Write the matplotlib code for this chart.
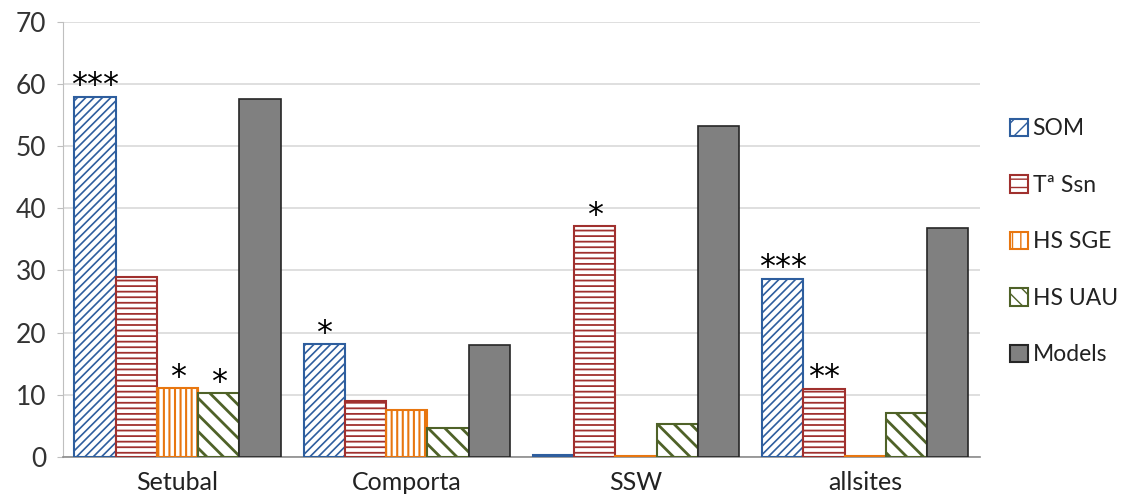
import numpy as np
import matplotlib
matplotlib.use("Agg")
import matplotlib.pyplot as plt
from matplotlib.patches import Patch

sites = ["Setubal", "Comporta", "SSW", "allsites"]
series_names = ["SOM", "Tª Ssn", "HS SGE", "HS UAU", "Models"]
som = [57.9, 18.1, 0.2, 28.7]
ta_ssn = [28.9, 8.9, 37.1, 10.9]
hs_sge = [11.0, 7.6, 0.1, 0.1]
hs_uau = [10.2, 4.6, 5.3, 7.0]
models = [57.7, 18.0, 53.2, 36.8]
# significance stars per series and site
stars_som = ["***", "*", "", "***"]
stars_ta = ["", "", "*", "**"]
stars_sge = ["*", "", "", ""]
stars_uau = ["*", "", "", ""]
stars_models = ["", "", "", ""]

series = [som, ta_ssn, hs_sge, hs_uau, models]
stars = [stars_som, stars_ta, stars_sge, stars_uau, stars_models]
edges = ["#2E5E9E", "#A0302E", "#E8760F", "#4F6228", "#262626"]
faces = ["white", "white", "white", "white", "#808080"]
hatches = ["////", "---", "|||", "\\\\", None]
hatch_lw = [1.2, 1.3, 1.5, 2.0, 1.0]
bar_lw = [1.5, 1.5, 1.5, 1.5, 1.2]

plt.rcParams["font.family"] = ["Lato", "DejaVu Sans"]

fig = plt.figure(figsize=(11.29, 5.04), dpi=100)
ax = fig.add_axes([0.0558, 0.0939, 0.812, 0.862])

n = len(series)
x = np.arange(len(sites))
width = 0.9 / n
for i, (vals, st) in enumerate(zip(series, stars)):
    pos = x - 0.45 + width * (i + 0.5)
    with plt.rc_context({"hatch.linewidth": hatch_lw[i]}):
        bars = ax.bar(pos, vals, width, facecolor=faces[i], edgecolor=edges[i],
                      hatch=hatches[i], linewidth=bar_lw[i], zorder=3)
    for b, s, v in zip(bars, st, vals):
        if s:
            ax.annotate(s, (b.get_x() + b.get_width() / 2, v),
                        xytext=(0, -3), textcoords="offset points",
                        ha="center", va="bottom", fontsize=23,
                        family="DejaVu Sans", color="black", zorder=4)

ax.set_ylim(0, 70)
ax.set_xlim(-0.5, len(sites) - 0.5)
ax.set_yticks(np.arange(0, 71, 10))
ax.set_xticks(x)
ax.set_xticklabels(sites)
ax.yaxis.grid(True, color="#D9D9D9", linewidth=1.2, zorder=0)
ax.set_axisbelow(True)
for sp in ["top", "right"]:
    ax.spines[sp].set_visible(False)
ax.spines["left"].set_color("#BFBFBF")
ax.spines["bottom"].set_color("#8C8C8C")
ax.spines["bottom"].set_linewidth(1.2)
ax.tick_params(axis="y", length=4, color="#BFBFBF", labelsize=19,
               labelcolor="#333333", pad=8)
ax.tick_params(axis="x", length=0, labelsize=18, labelcolor="#222222", pad=10)

handles = []
for i in range(n):
    with plt.rc_context({"hatch.linewidth": 2.0}):
        handles.append(Patch(facecolor=faces[i], edgecolor=edges[i],
                             hatch=(hatches[i][:2] if hatches[i] else None),
                             linewidth=1.5))
leg = fig.legend(handles, series_names, loc="center left",
                 bbox_to_anchor=(0.876, 0.52), frameon=False, fontsize=16.5,
                 handlelength=0.8, handleheight=0.8, handletextpad=0.2,
                 labelspacing=1.55, labelcolor="#222222")

fig.savefig("out.png", dpi=100)
